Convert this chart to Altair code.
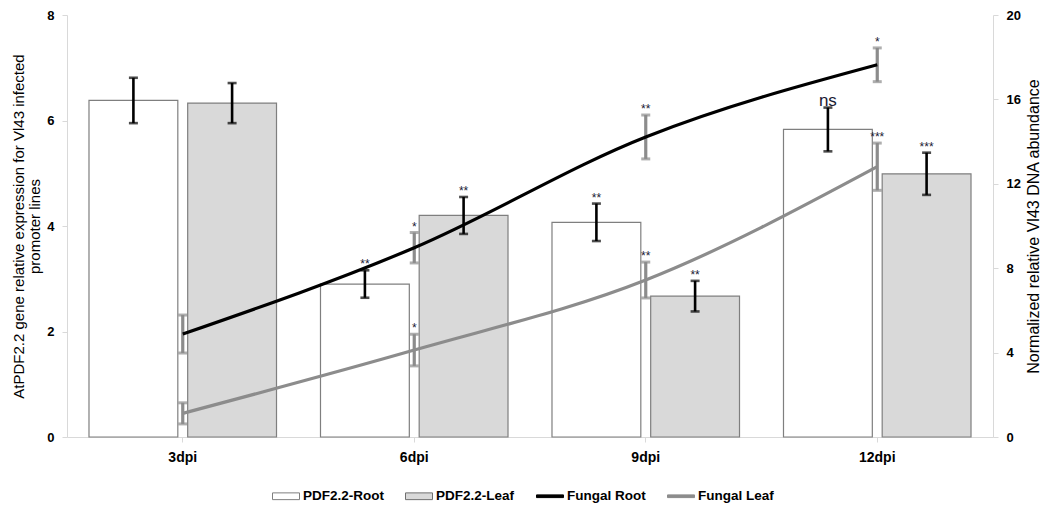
import altair as alt
import pandas as pd

days = ["3dpi", "6dpi", "9dpi", "12dpi"]
bar_series = ["PDF2.2-Root", "PDF2.2-Leaf"]
line_series = ["Fungal Root", "Fungal Leaf"]
all_series = bar_series + line_series

root = [6.38, 2.90, 4.07, 5.83]
root_err = [0.43, 0.26, 0.355, 0.415]
root_sig = ["", "**", "**", "ns"]
leaf = [6.33, 4.20, 2.67, 4.99]
leaf_err = [0.38, 0.35, 0.29, 0.40]
leaf_sig = ["", "**", "**", "***"]

fungal_root = [4.88, 8.97, 14.22, 17.64]
fungal_root_err = [0.90, 0.72, 1.04, 0.80]
fungal_root_sig = ["", "*", "**", "*"]
fungal_leaf = [1.12, 4.12, 7.44, 12.81]
fungal_leaf_err = [0.50, 0.75, 0.85, 1.12]
fungal_leaf_sig = ["", "*", "**", "***"]

FONT = "Liberation Sans"


def frame(series_name, vals, errs, sigs):
    return pd.DataFrame({
        "day": days,
        "series": series_name,
        "value": vals,
        "lo": [v - e for v, e in zip(vals, errs)],
        "hi": [v + e for v, e in zip(vals, errs)],
        "sig": sigs,
    })


bars_df = pd.concat([frame(bar_series[0], root, root_err, root_sig),
                     frame(bar_series[1], leaf, leaf_err, leaf_sig)])
lines_df = pd.concat([frame(line_series[0], fungal_root, fungal_root_err, fungal_root_sig),
                      frame(line_series[1], fungal_leaf, fungal_leaf_err, fungal_leaf_sig)])
legend_df = pd.DataFrame({"series": all_series})

fill_scale = alt.Scale(domain=all_series, range=["white", "#d9d9d9", "black", "#8c8c8c"])
stroke_scale = alt.Scale(domain=all_series, range=["#7f7f7f", "#6f6f6f", "black", "#8c8c8c"])
shape_scale = alt.Scale(domain=all_series, range=[
    "M-1,-0.25H1V0.25H-1Z", "M-1,-0.25H1V0.25H-1Z",
    "M-1,-0.1H1V0.1H-1Z", "M-1,-0.1H1V0.1H-1Z"])

x_scale = alt.Scale(type="band", paddingInner=0.19, paddingOuter=0.095)
x_axis = alt.Axis(title=None, labelAngle=0, labelFontSize=14, labelPadding=8, tickSize=5)


def X():
    return alt.X("day:N", sort=days, scale=x_scale, axis=x_axis)


xoff = alt.XOffset("series:N", sort=bar_series,
                   scale=alt.Scale(domain=bar_series, paddingInner=0.1, paddingOuter=0))

yl_scale = alt.Scale(domain=[0, 8], nice=False)
yr_scale = alt.Scale(domain=[0, 20], nice=False)

left_axis = alt.Axis(values=[0, 2, 4, 6, 8], tickSize=5, labelPadding=8, labelFontSize=13,
                     title=["AtPDF2.2 gene relative expression for Vl43 infected", "promoter lines"],
                     titleFontSize=15, titleLineHeight=16, titlePadding=4)
right_axis = alt.Axis(orient="right", values=[0, 4, 8, 12, 16, 20], tickSize=5, labelPadding=8,
                      labelFontSize=13, title="Normalized relative Vl43 DNA abundance",
                      titleFontSize=16, titleAngle=270, titlePadding=21)


def YL(field):
    return alt.Y(field, scale=yl_scale, axis=left_axis)


def YR(field):
    return alt.Y(field, scale=yr_scale, axis=right_axis)


leg = alt.Legend(title=None, orient="none", legendX=205, legendY=467, direction="horizontal",
                 labelFont=FONT, labelFontSize=13.5, labelFontWeight="bold", labelColor="black",
                 labelOffset=3, columnPadding=19, symbolSize=729, symbolStrokeWidth=1,
                 symbolOpacity=1)

bars = alt.Chart(bars_df).mark_bar(stroke="#7f7f7f", strokeWidth=1.2).encode(
    x=X(), xOffset=xoff, y=YL("value:Q"),
    fill=alt.Fill("series:N", scale=fill_scale, legend=leg),
)
bar_err = alt.Chart(bars_df).mark_rule(color="black", strokeWidth=2.6).encode(
    x=X(), xOffset=xoff, y=YL("lo:Q"), y2="hi:Q")
bar_cap_lo = alt.Chart(bars_df).mark_tick(color="black", size=9, thickness=2.6).encode(
    x=X(), xOffset=xoff, y=YL("lo:Q"))
bar_cap_hi = alt.Chart(bars_df).mark_tick(color="black", size=9, thickness=2.6).encode(
    x=X(), xOffset=xoff, y=YL("hi:Q"))
bar_sig = alt.Chart(bars_df).mark_text(baseline="alphabetic", dy=-2, font=FONT,
                                       color="#1a1a33").encode(
    x=X(), xOffset=xoff, y=YL("hi:Q"), text="sig:N",
    size=alt.condition(alt.datum.sig == "ns", alt.value(17), alt.value(12)),
)
left = alt.layer(bars, bar_err, bar_cap_lo, bar_cap_hi, bar_sig)

GRAY = "#8c8c8c"
line_err = alt.Chart(lines_df).mark_rule(color=GRAY, strokeWidth=3.2).encode(
    x=X(), y=YR("lo:Q"), y2="hi:Q")
line_cap_lo = alt.Chart(lines_df).mark_tick(color=GRAY, size=9, thickness=3).encode(
    x=X(), y=YR("lo:Q"))
line_cap_hi = alt.Chart(lines_df).mark_tick(color=GRAY, size=9, thickness=3).encode(
    x=X(), y=YR("hi:Q"))
lines = alt.Chart(lines_df).mark_line(strokeWidth=3.2, interpolate="monotone").encode(
    x=X(), y=YR("value:Q"),
    stroke=alt.Stroke("series:N", scale=stroke_scale, legend=leg),
    detail="series:N",
)
line_sig = alt.Chart(lines_df).mark_text(baseline="alphabetic", dy=-2, font=FONT,
                                         color="#1a1a33", fontSize=12).encode(
    x=X(), y=YR("hi:Q"), text="sig:N")

legend_layer = alt.Chart(legend_df).mark_point(filled=True, opacity=0).encode(
    fill=alt.Fill("series:N", scale=fill_scale, legend=leg),
    stroke=alt.Stroke("series:N", scale=stroke_scale, legend=leg),
    shape=alt.Shape("series:N", scale=shape_scale, legend=leg),
)

right = alt.layer(line_err, line_cap_lo, line_cap_hi, lines, line_sig, legend_layer)

chart = alt.layer(left, right).resolve_scale(y="independent").properties(
    width=926, height=422,
    autosize=alt.AutoSizeParams(type="none"),
    padding={"left": 59, "top": 7, "right": 51, "bottom": 70},
).configure_view(stroke=None).configure_axis(
    grid=False, domainColor="#d9d9d9", tickColor="#d9d9d9",
    labelFont=FONT, labelFontWeight="bold", labelColor="black",
    titleFont=FONT, titleFontWeight="normal", titleColor="black",
)

chart.save("out.html", embed_options={"renderer": "svg", "actions": False})
